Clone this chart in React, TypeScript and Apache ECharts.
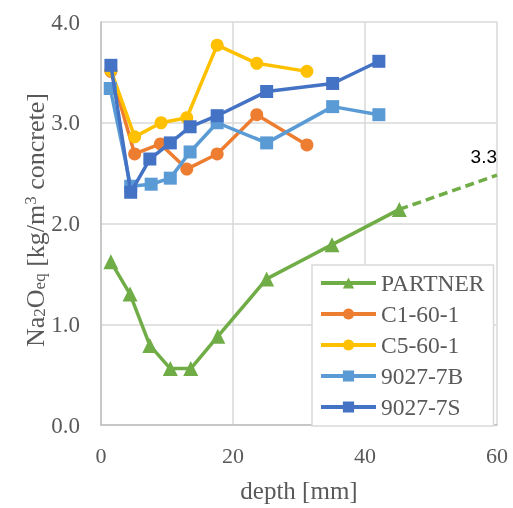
import React, { useEffect, useRef } from "react";
import * as echarts from "echarts";

const xTicks = [0, 20, 40, 60];
const yTicks = [0, 1, 2, 3, 4];

const seriesNames = ["PARTNER", "C1-60-1", "C5-60-1", "9027-7B", "9027-7S"];
const colors = ["#70AD47", "#ED7D31", "#FFC000", "#5B9BD5", "#4472C4"];
const symbols = ["triangle", "circle", "circle", "rect", "rect"];

const partner = [
  [1.5, 1.62], [4.4, 1.3], [7.4, 0.79], [10.5, 0.56], [13.6, 0.56],
  [17.7, 0.88], [25.1, 1.45], [35.0, 1.79], [45.2, 2.14],
];
const c1 = [
  [1.5, 3.51], [5.1, 2.69], [9.0, 2.79], [13.0, 2.54], [17.6, 2.69],
  [23.6, 3.08], [31.2, 2.78],
];
const c5 = [
  [1.5, 3.52], [5.1, 2.86], [9.1, 3.0], [13.0, 3.05], [17.6, 3.77],
  [23.6, 3.59], [31.2, 3.51],
];
const b7 = [
  [1.4, 3.34], [4.5, 2.37], [7.6, 2.39], [10.5, 2.45], [13.5, 2.71],
  [17.6, 3.0], [25.1, 2.8], [35.1, 3.16], [42.1, 3.08],
];
const s7 = [
  [1.5, 3.57], [4.5, 2.31], [7.4, 2.64], [10.5, 2.8], [13.5, 2.96],
  [17.6, 3.07], [25.1, 3.31], [35.1, 3.39], [42.1, 3.61],
];
const partnerExtension = [[45.2, 2.14], [60, 2.48]];
const extensionLabel = "3.3";

const allData = [partner, c1, c5, b7, s7];

export default function App() {
  const ref = useRef<HTMLDivElement>(null);
  useEffect(() => {
    if (!ref.current) return;
    const chart = echarts.init(ref.current, null, { renderer: "svg" });
    const serif = "Liberation Serif";
    const textColor = "#595959";
    const series: any[] = allData.map((d, i) => ({
      name: seriesNames[i],
      type: "line",
      data: d,
      symbol: symbols[i],
      symbolSize: i === 0 ? 15 : 13,
      showAllSymbol: true,
      itemStyle: { color: colors[i] },
      lineStyle: { color: colors[i], width: 3.5 },
      z: 2 + i,
    }));
    series.push({
      name: "ext",
      type: "line",
      symbol: "circle",
      symbolSize: 0,
      showAllSymbol: true,
      itemStyle: { color: colors[0] },
      data: partnerExtension.map((p, j) =>
        j === partnerExtension.length - 1
          ? {
              value: p,
              label: {
                show: true,
                formatter: extensionLabel,
                position: "top",
                align: "right",
                distance: 9,
                fontSize: 19,
                color: "#000",
                fontFamily: "Liberation Sans",
              },
            }
          : { value: p }
      ),
      lineStyle: { color: colors[0], width: 3.5, type: [9, 5] },
      z: 1,
    });
    chart.setOption({
      animation: false,
      grid: { left: 101, right: 16, top: 22, bottom: 82, containLabel: false },
      xAxis: {
        type: "value",
        min: xTicks[0],
        max: xTicks[xTicks.length - 1],
        interval: 20,
        name: "depth [mm]",
        nameLocation: "middle",
        nameGap: 53,
        nameTextStyle: { fontFamily: serif, fontSize: 25, color: textColor },
        axisLine: { show: true, lineStyle: { color: "#bfbfbf", width: 1.5 } },
        axisTick: { show: false },
        axisLabel: { fontFamily: serif, fontSize: 22, color: textColor, margin: 19 },
        splitLine: { show: true, lineStyle: { color: "#d9d9d9", width: 1.5 } },
      },
      yAxis: {
        type: "value",
        min: yTicks[0],
        max: yTicks[yTicks.length - 1],
        interval: 1,
        axisLine: { show: true, lineStyle: { color: "#bfbfbf", width: 1.5 } },
        axisTick: { show: false },
        axisLabel: {
          fontFamily: serif,
          fontSize: 23,
          color: textColor,
          margin: 21,
          formatter: (v: number) => v.toFixed(1),
        },
        splitLine: { show: true, lineStyle: { color: "#d9d9d9", width: 1.5 } },
      },
      legend: {
        data: seriesNames,
        orient: "vertical",
        left: 312,
        top: 265,
        itemWidth: 55,
        itemHeight: 14,
        itemGap: 7,
        padding: [6, 9, 7, 7],
        backgroundColor: "#fff",
        borderColor: "#d9d9d9",
        borderWidth: 1.5,
        lineStyle: { width: 4 },
        textStyle: { fontFamily: serif, fontSize: 23.5, color: textColor },
      },
      graphic: [
        {
          type: "text",
          x: 35,
          y: 220,
          rotation: Math.PI / 2,
          style: {
            text: "Na{sub|2}O{sub|eq} [kg/m{sup|3} concrete]",
            fontFamily: serif,
            fontSize: 26,
            fill: textColor,
            align: "center",
            verticalAlign: "middle",
            rich: {
              sub: { fontSize: 17, fontFamily: serif, fill: textColor, verticalAlign: "bottom", lineHeight: 16 },
              sup: { fontSize: 17, fontFamily: serif, fill: textColor, verticalAlign: "top", lineHeight: 16 },
            },
          },
        },
      ],
      series,
    });
    return () => chart.dispose();
  }, []);
  return (
    <div
      ref={ref}
      style={{ position: "fixed", left: 0, top: 0, width: 513, height: 508 }}
    />
  );
}
